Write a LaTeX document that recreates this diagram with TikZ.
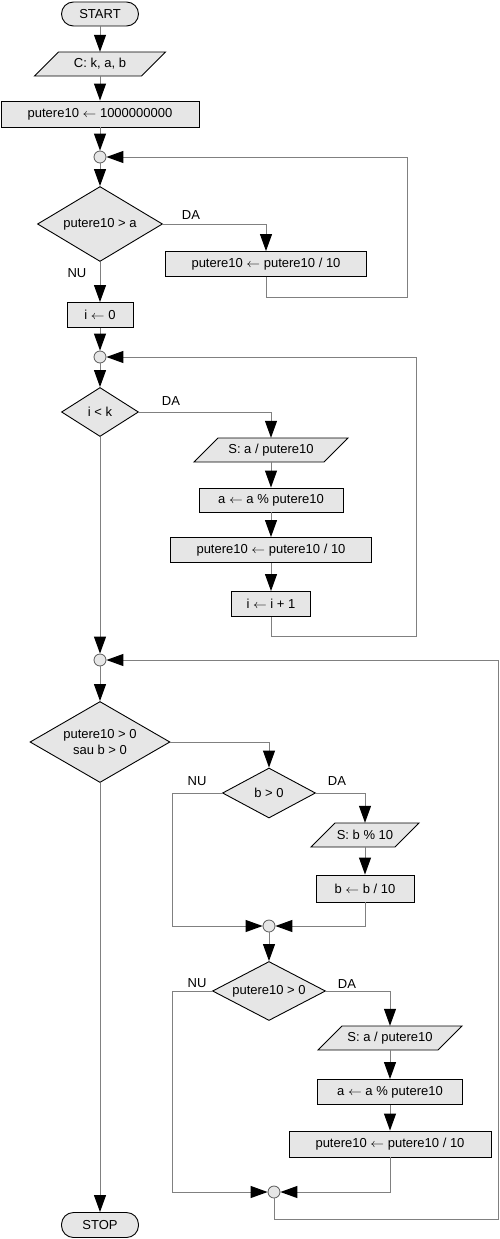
\documentclass[tikz,border=0pt]{standalone}
\usepackage{fontspec}
\setmainfont{Liberation Sans}
\usetikzlibrary{arrows.meta,shapes.geometric}
\definecolor{boxfill}{HTML}{E6E6E6}
\definecolor{linegray}{HTML}{808080}
\newcommand{\larr}{\scalebox{1.15}[1]{$\leftarrow$}}
\newcommand{\iobox}[5]{%
  \filldraw[ioshape] ({#2-#4-12},{#3+12}) -- ({#2+#4-12},{#3+12}) -- ({#2+#4+12},{#3-12}) -- ({#2-#4+12},{#3-12}) -- cycle;
  \node[iotext] (#1) at (#2,#3) {#5};}
\begin{document}
\begin{tikzpicture}[x=1pt,y=-1pt, font=\fontsize{13}{15.5}\selectfont,
  base/.style={draw=black, fill=boxfill, line width=0.9pt, inner sep=0pt},
  term/.style={base, rectangle, rounded corners=12pt, minimum width=77pt, minimum height=24pt},
  procbox/.style={base, rectangle, minimum height=25pt},
  decision/.style={base, diamond},
  junct/.style={draw=black!65, fill=boxfill, circle, minimum size=12pt, inner sep=0pt, line width=0.8pt},
  iotext/.style={rectangle, minimum height=24pt, inner sep=0pt},
  ioshape/.style={draw=black, fill=boxfill, line width=0.9pt},
  conn/.style={draw=linegray, line width=1pt},
  arr/.style={conn, -{Triangle[length=17pt,width=12pt,color=black]}},
  lbl/.style={inner sep=0pt}
]
\useasboundingbox (0,0) rectangle (500,1239);

% main column
\node[term] (start) at (100,14) {START};
\iobox{in}{100}{64}{53.5}{C: k, a, b}
\node[procbox, minimum width=198pt, minimum height=26pt] (init) at (100,114) {putere10 \larr{} 1000000000};
\node[junct] (j1) at (100,157) {};
\node[decision, aspect=1.67, minimum width=125pt, minimum height=75pt] (d1) at (100,224) {putere10 > a};
\node[procbox, minimum width=201pt] (b1) at (266,264) {putere10 \larr{} putere10 / 10};
\node[procbox, minimum width=66pt] (i0) at (100,315) {i \larr{} 0};
\node[junct] (j2) at (100,357) {};
\node[decision, aspect=1.57, minimum width=77pt, minimum height=49pt] (d2) at (100,412) {i < k};
\iobox{o1}{271}{450}{65}{S: a / putere10}
\node[procbox, minimum width=144pt, minimum height=24pt] (a1) at (271,500) {a \larr{} a \% putere10};
\node[procbox, minimum width=201pt] (p1) at (271,550) {putere10 \larr{} putere10 / 10};
\node[procbox, minimum width=79pt] (inc) at (271,604) {i \larr{} i + 1};
\node[junct] (j3) at (100,660) {};
\node[decision, aspect=1.73, minimum width=140pt, minimum height=81pt, align=center] (d3) at (100,742) {putere10 > 0\\sau b > 0};
\node[decision, aspect=1.86, minimum width=93pt, minimum height=50pt] (d4) at (269,793) {b > 0};
\iobox{o2}{365}{835}{42}{S: b \% 10}
\node[procbox, minimum width=98pt, minimum height=27pt] (b2) at (365,888.5) {b \larr{} b / 10};
\node[junct] (j4) at (269,926) {};
\node[decision, aspect=1.92, minimum width=113pt, minimum height=59pt] (d5) at (269,991) {putere10 > 0};
\iobox{o3}{390}{1038}{60}{S: a / putere10}
\node[procbox, minimum width=145pt] (a3) at (390,1092) {a \larr{} a \% putere10};
\node[procbox, minimum width=202pt, minimum height=26pt] (p3) at (390,1144) {putere10 \larr{} putere10 / 10};
\node[junct] (j5) at (274,1192) {};
\node[term, minimum height=25pt] (stop) at (100,1225) {STOP};

% labels
\node[lbl] (da1) at (191,215) {DA};
\node[lbl] (nu1) at (77,273) {NU};
\node[lbl] (da2) at (171,401) {DA};
\node[lbl] (nu4) at (197,781) {NU};
\node[lbl] (da4) at (337,781) {DA};
\node[lbl] (nu5) at (197,983) {NU};
\node[lbl] (da5) at (347,984) {DA};

% helper coordinates
\coordinate (r1) at (407,297);
\coordinate (r2) at (416,636);
\coordinate (l4) at (172,926);
\coordinate (l5) at (172,1192);
\coordinate (r3) at (498,1219);

% connectors
\draw[arr] (start) -- (in);
\draw[arr] (in) -- (init);
\draw[arr] (init) -- (j1);
\draw[arr] (j1) -- (d1);
\draw[arr] (d1.east) -| (b1.north);
\draw[arr] (b1.south) |- (r1) |- (j1.east);
\draw[arr] (d1.south) -- (i0.north);
\draw[arr] (i0) -- (j2);
\draw[arr] (j2) -- (d2);
\draw[arr] (d2.east) -| (o1.north);
\draw[arr] (o1) -- (a1);
\draw[arr] (a1) -- (p1);
\draw[arr] (p1) -- (inc);
\draw[arr] (inc.south) |- (r2) |- (j2.east);
\draw[arr] (d2.south) -- (j3.north);
\draw[arr] (j3) -- (d3);
\draw[arr] (d3.east) -| (d4.north);
\draw[arr] (d4.west) -| (l4) -- (j4.west);
\draw[arr] (d4.east) -| (o2.north);
\draw[arr] (o2) -- (b2);
\draw[arr] (b2.south) |- (j4.east);
\draw[arr] (j4) -- (d5);
\draw[arr] (d5.west) -| (l5) -- (j5.west);
\draw[arr] (d5.east) -| (o3.north);
\draw[arr] (o3) -- (a3);
\draw[arr] (a3) -- (p3);
\draw[arr] (p3.south) |- (j5.east);
\draw[arr] (j5.south) |- (r3) |- (j3.east);
\draw[arr] (d3.south) -- (stop.north);
\end{tikzpicture}
\end{document}
